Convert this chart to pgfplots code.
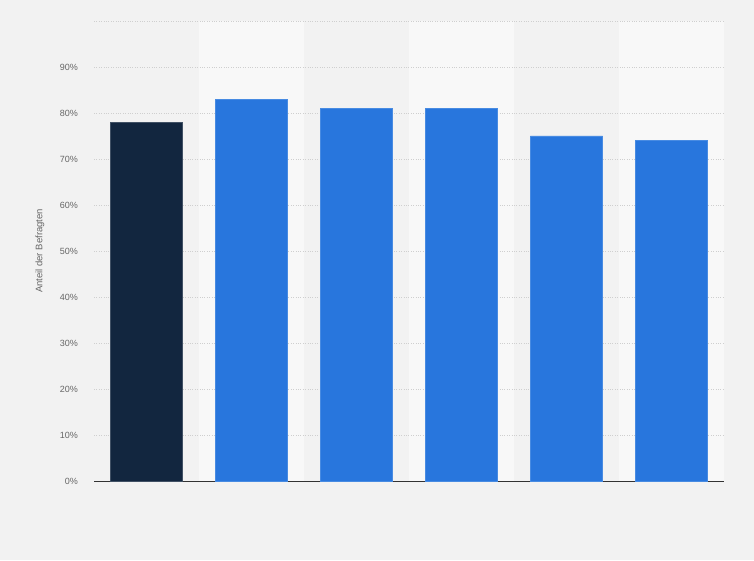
\documentclass[border=0pt]{standalone}
\usepackage{pgfplots}
\pgfplotsset{compat=1.18}
\usepackage{fontspec}
\setmainfont{Liberation Sans}
\definecolor{bg}{HTML}{F2F2F2}
\definecolor{band}{HTML}{F8F8F8}
\definecolor{navy}{HTML}{12263F}
\definecolor{blue}{HTML}{2876DD}
\definecolor{gridc}{HTML}{CFCFCF}
\definecolor{tickc}{HTML}{666666}
\pagecolor{bg}
\begin{document}
\begin{tikzpicture}[x=1pt,y=1pt]
\path (0,0) rectangle (754,560);
\begin{axis}[
  at={(94pt,79pt)}, anchor=south west,
  scale only axis, width=630pt, height=460pt,
  set layers=standard,
  xmin=-0.5, xmax=5.5, ymin=0, ymax=100,
  xtick=\empty,
  ytick={0,10,...,100},
  yticklabels={0\%,10\%,20\%,30\%,40\%,50\%,60\%,70\%,80\%,90\%,},
  ymajorgrids,
  major grid style={gridc, dotted, line width=0.8pt},
  major tick length=0pt,
  axis lines*=left,
  y axis line style={draw=none},
  x axis line style={draw=black!80, line width=1pt, -},
  yticklabel style={font=\fontsize{9}{10}\selectfont, text=tickc, inner sep=0pt, anchor=east, xshift=-16pt},
  ylabel={Anteil der Befragten},
  ylabel style={font=\fontsize{9.5}{10}\selectfont, text=tickc, at={(axis description cs:-0.0857,0.5)}, rotate=0, anchor=center},
  /pgf/number format/assume math mode=true,
]
\addplot[on layer=axis background, ybar, bar width=1, bar shift=0pt, fill=band, draw=none] coordinates {(1,100) (3,100) (5,100)};
\addplot[ybar, bar width=0.686, bar shift=0pt, fill=navy, draw=navy!80!white, line width=0.5pt] coordinates {(0,78)};
\addplot[ybar, bar width=0.686, bar shift=0pt, fill=blue, draw=blue!85!white, line width=0.5pt] coordinates {(1,83) (2,81) (3,81) (4,75) (5,74)};
\end{axis}
\end{tikzpicture}
\end{document}
